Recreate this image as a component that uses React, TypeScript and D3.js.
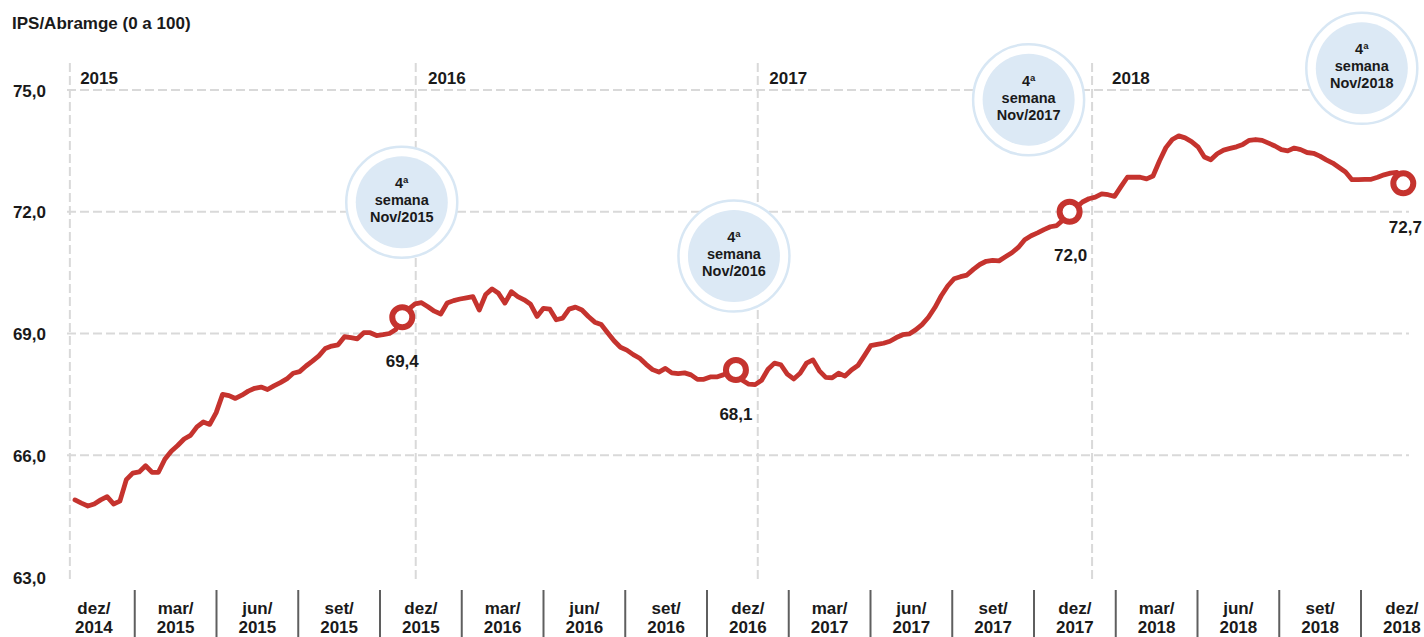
import React from "react";
import * as d3 from "d3";

// ---------- data ----------
const chartTitle = "IPS/Abramge (0 a 100)";
const quarterLabels = [
  "dez/2014", "mar/2015", "jun/2015", "set/2015", "dez/2015",
  "mar/2016", "jun/2016", "set/2016", "dez/2016",
  "mar/2017", "jun/2017", "set/2017", "dez/2017",
  "mar/2018", "jun/2018", "set/2018", "dez/2018",
];
const yTicks = [63, 66, 69, 72, 75];
const yGridValues = [66, 69, 72, 75];
const yearNames = ["2015", "2016", "2017", "2018"];
const yearStartWeeks = [-0.8, 53.1, 106.4, 158.5];
const yearLabelWeeks = [0.8, 55.0, 108.2, 161.6];

// weekly index (dez/2014 .. 4ª semana nov/2018)
const ipsWeekly = [
  64.90, 64.82, 64.75, 64.80, 64.90, 64.98, 64.80, 64.87, 65.40, 65.56,
  65.59, 65.74, 65.58, 65.58, 65.90, 66.10, 66.24, 66.40, 66.49, 66.70,
  66.82, 66.76, 67.05, 67.50, 67.47, 67.40, 67.48, 67.58, 67.65, 67.68,
  67.62, 67.71, 67.79, 67.88, 68.02, 68.06, 68.20, 68.32, 68.45, 68.63,
  68.69, 68.72, 68.92, 68.90, 68.87, 69.02, 69.02, 68.95, 68.97, 69.00,
  69.10, 69.40, 69.60, 69.73, 69.76, 69.66, 69.55, 69.48, 69.75, 69.81,
  69.85, 69.88, 69.91, 69.58, 69.96, 70.10, 69.99, 69.75, 70.03, 69.91,
  69.83, 69.72, 69.42, 69.62, 69.60, 69.34, 69.38, 69.60, 69.65, 69.58,
  69.42, 69.28, 69.22, 69.02, 68.82, 68.66, 68.59, 68.48, 68.39, 68.24,
  68.11, 68.05, 68.14, 68.03, 68.01, 68.03, 67.98, 67.87, 67.87, 67.93,
  67.93, 67.98, 68.05, 68.10, 67.85, 67.75, 67.74, 67.85, 68.12, 68.27,
  68.23, 68.00, 67.88, 68.02, 68.27, 68.35, 68.08, 67.92, 67.91, 68.02,
  67.95, 68.10, 68.21, 68.45, 68.70, 68.73, 68.76, 68.81, 68.90, 68.97,
  68.99, 69.09, 69.22, 69.40, 69.64, 69.93, 70.17, 70.35, 70.40, 70.44,
  70.58, 70.70, 70.78, 70.80, 70.79, 70.89, 70.99, 71.12, 71.31, 71.41,
  71.48, 71.56, 71.63, 71.66, 71.80, 72.00, 72.10, 72.24, 72.32, 72.36,
  72.44, 72.42, 72.38, 72.62, 72.85, 72.85, 72.85, 72.81, 72.88, 73.25,
  73.58, 73.78, 73.87, 73.82, 73.73, 73.60, 73.35, 73.28, 73.43, 73.52,
  73.56, 73.60, 73.66, 73.76, 73.78, 73.76, 73.69, 73.62, 73.53, 73.50,
  73.57, 73.53, 73.46, 73.44, 73.37, 73.28, 73.20, 73.09, 72.98, 72.79,
  72.79, 72.80, 72.80, 72.85, 72.91, 72.95, 72.97, 72.70,
];
const highlightWeeks = [51, 103, 155, 207];
const highlightLabels = ["69,4", "68,1", "72,0", "72,7"];
const noteLines = [
  ["4ª", "semana", "Nov/2015"],
  ["4ª", "semana", "Nov/2016"],
  ["4ª", "semana", "Nov/2017"],
  ["4ª", "semana", "Nov/2018"],
];

// ---------- layout / style ----------
const W = 1424;
const H = 637;
const FONT = "'Liberation Sans', Arial, Helvetica, sans-serif";
const RED = "#c5332e";
const GRID = "#d9d9d9";
const TEXT = "#1a1a1a";
const FS = 17;
const noteOffsets = [
  { dx: -0.5, dy: -115 },
  { dx: -2, dy: -114 },
  { dx: -41, dy: -112 },
  { dx: -41.5, dy: -115 },
];
const valueLabelDx = [0, 0, 1, 2];

export default function App() {
  const x = d3.scaleLinear().domain([0, ipsWeekly.length - 1]).range([75, 1403.3]);
  const y = d3.scaleLinear().domain([63, 75]).range([577, 90]);
  const band = d3
    .scaleBand<string>()
    .domain(quarterLabels)
    .range([53, 53 + quarterLabels.length * 81.75])
    .paddingInner(0)
    .paddingOuter(0);

  const line = d3
    .line<number>()
    .x((_, i) => x(i))
    .y((d) => y(d))
    .curve(d3.curveLinear);

  const gridLeft = 67;
  const gridRight = 1409;
  const vTop = 63;
  const vBottom = 580;

  return (
    <svg
      width={W}
      height={H}
      viewBox={`0 0 ${W} ${H}`}
      style={{ position: "absolute", left: 0, top: 0, background: "#fff" }}
      fontFamily={FONT}
    >
      <rect x={0} y={0} width={W} height={H} fill="#fff" />
      {/* title */}
      <text x={12} y={29} fontSize={FS} fontWeight="bold" fill={TEXT}>
        {chartTitle}
      </text>

      {/* horizontal grid */}
      {yGridValues.map((v) => (
        <line
          key={"h" + v}
          x1={gridLeft}
          x2={gridRight}
          y1={y(v)}
          y2={y(v)}
          stroke={GRID}
          strokeWidth={2}
          strokeDasharray="9 4"
        />
      ))}
      {/* vertical year grid */}
      {yearStartWeeks.map((w, i) => (
        <line
          key={"v" + i}
          x1={x(w)}
          x2={x(w)}
          y1={vTop}
          y2={vBottom}
          stroke={GRID}
          strokeWidth={2}
          strokeDasharray="9 4"
        />
      ))}
      {/* year labels */}
      {yearNames.map((name, i) => (
        <text
          key={name}
          x={x(yearLabelWeeks[i])}
          y={84}
          fontSize={FS}
          fontWeight="bold"
          fill={TEXT}
        >
          {name}
        </text>
      ))}

      {/* y tick labels */}
      {yTicks.map((v) => (
        <text
          key={"yt" + v}
          x={46}
          y={y(v) + 1}
          fontSize={FS}
          fontWeight="bold"
          fill={TEXT}
          textAnchor="end"
          dominantBaseline="central"
        >
          {d3.format(".1f")(v).replace(".", ",")}
        </text>
      ))}

      {/* note bubbles */}
      {highlightWeeks.map((w, i) => {
        const cx = x(w) + noteOffsets[i].dx;
        const cy = y(ipsWeekly[w]) + noteOffsets[i].dy;
        return (
          <g key={"note" + i}>
            <circle cx={cx} cy={cy} r={55.5} fill="#fff" stroke="#d8e7f4" strokeWidth={2.5} />
            <circle cx={cx} cy={cy} r={46} fill="#dce9f5" />
            {noteLines[i].map((t, j) => (
              <text
                key={j}
                x={cx}
                y={cy - 19 + j * 17}
                fontSize={14.5}
                fontWeight="bold"
                fill={TEXT}
                textAnchor="middle"
                dominantBaseline="central"
              >
                {t}
              </text>
            ))}
          </g>
        );
      })}

      {/* series line */}
      <path
        d={line(ipsWeekly) || ""}
        fill="none"
        stroke={RED}
        strokeWidth={4.8}
        strokeLinejoin="round"
        strokeLinecap="round"
      />

      {/* highlighted points */}
      {highlightWeeks.map((w, i) => (
        <g key={"hp" + i}>
          <circle cx={x(w)} cy={y(ipsWeekly[w])} r={10} fill="#fff" stroke={RED} strokeWidth={6} />
          <text
            x={x(w) + valueLabelDx[i]}
            y={y(ipsWeekly[w]) + 44}
            fontSize={FS}
            fontWeight="bold"
            fill={TEXT}
            textAnchor="middle"
            dominantBaseline="central"
          >
            {highlightLabels[i]}
          </text>
        </g>
      ))}

      {/* x axis: category separators and labels */}
      {quarterLabels.slice(1).map((c) => (
        <line
          key={"tk" + c}
          x1={band(c)!}
          x2={band(c)!}
          y1={590}
          y2={H}
          stroke="#5f5f5f"
          strokeWidth={2}
        />
      ))}
      {quarterLabels.map((c) => {
        const [m, yr] = c.split("/");
        const cx = band(c)! + band.bandwidth() / 2;
        return (
          <text key={"xl" + c} x={cx} fontSize={FS} fontWeight="bold" fill={TEXT} textAnchor="middle">
            <tspan x={cx} y={614}>{m + "/"}</tspan>
            <tspan x={cx} y={633}>{yr}</tspan>
          </text>
        );
      })}
    </svg>
  );
}
